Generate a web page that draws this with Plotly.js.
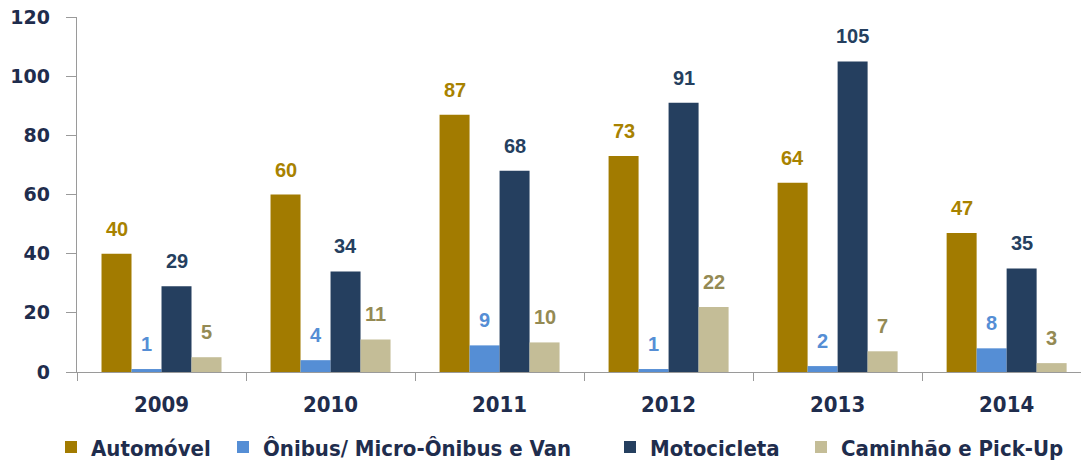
<!DOCTYPE html>
<html>
<head>
<meta charset="utf-8">
<script src="https://cdn.plot.ly/plotly-3.0.1.min.js"></script>
<style>
  html, body { margin: 0; padding: 0; background: #fff; }
  #chart { width: 1081px; height: 461px; }
</style>
</head>
<body>
<div id="chart"></div>
<script>
// data
var anos = ['2009', '2010', '2011', '2012', '2013', '2014']
var automovel = [40, 60, 87, 73, 64, 47]
var onibus = [1, 4, 9, 1, 2, 8]
var motocicleta = [29, 34, 68, 91, 105, 35]
var caminhao = [5, 11, 10, 22, 7, 3]

var nomes = ['Automóvel', 'Ônibus/ Micro-Ônibus e Van', 'Motocicleta', 'Caminhão e Pick-Up']
var valores = [automovel, onibus, motocicleta, caminhao]
var cores = ['#A27B00', '#558ED5', '#253F5F', '#C4BD97']
var coresTexto = ['#A88200', '#558ED5', '#253F5F', '#948A54']

var navy = '#1F2D4D'
var fonteLegenda = 'DejaVu Sans Condensed, Liberation Sans Narrow, sans-serif'
var bargap = 0.29
// left edge of each legend entry text, in px
var legendaX = [91, 263, 650, 841]

var data = []
var annotations = []
var larg = (1 - bargap) / nomes.length

var layout = {
  width: 1081,
  height: 461,
  margin: {l: 77, r: 0, t: 17, b: 89},
  paper_bgcolor: '#fff',
  plot_bgcolor: '#fff',
  barmode: 'group',
  bargap: bargap,
  bargroupgap: 0,
  showlegend: true,
  xaxis: {
    type: 'category',
    range: [-0.5, 5.44],
    automargin: false,
    showline: true,
    linecolor: '#9a9a9a',
    linewidth: 1.3,
    ticks: 'outside',
    tickson: 'boundaries',
    ticklen: 8,
    tickcolor: '#9a9a9a',
    ticklabelstandoff: 12,
    showgrid: false,
    zeroline: false,
    tickfont: {family: fonteLegenda, size: 22, weight: 'bold', color: navy}
  },
  yaxis: {
    range: [0, 120],
    dtick: 20,
    automargin: false,
    showline: true,
    linecolor: '#9a9a9a',
    linewidth: 1.3,
    ticks: 'outside',
    ticklen: 10,
    tickcolor: '#9a9a9a',
    ticklabelstandoff: 12,
    showgrid: false,
    zeroline: false,
    tickfont: {family: 'DejaVu Sans, Verdana, sans-serif', size: 19, weight: 'bold', color: navy}
  }
}

for (let s = 0; s < nomes.length; s++) {
  let leg = s == 0 ? 'legend' : 'legend' + (s + 1)
  data.push({
    type: 'bar',
    name: nomes[s],
    x: anos,
    y: valores[s],
    legend: leg,
    marker: {color: cores[s]},
    hoverinfo: 'x+y+name'
  })
  // one legend per series so the entries can be spaced like the original
  layout[leg] = {
    orientation: 'h',
    xref: 'container',
    yref: 'container',
    x: (legendaX[s] - 40) / 1081,
    xanchor: 'left',
    y: 0.03,
    yanchor: 'middle',
    itemwidth: 30,
    bgcolor: 'rgba(0,0,0,0)',
    font: {family: fonteLegenda, size: 22, weight: 'bold', color: navy},
    itemclick: false
  }
  // labels sit a bit above each bar, so they are annotations
  for (let i = 0; i < anos.length; i++) {
    annotations.push({
      x: i + (s - (nomes.length - 1) / 2) * larg,
      y: valores[s][i],
      xref: 'x',
      yref: 'y',
      text: String(valores[s][i]),
      showarrow: false,
      yanchor: 'bottom',
      yshift: 12,
      font: {family: 'Liberation Sans, Arial, sans-serif', size: 20, weight: 'bold', color: coresTexto[s]}
    })
  }
}
layout.annotations = annotations

Plotly.newPlot('chart', data, layout, {displayModeBar: false, staticPlot: true})
</script>
</body>
</html>
